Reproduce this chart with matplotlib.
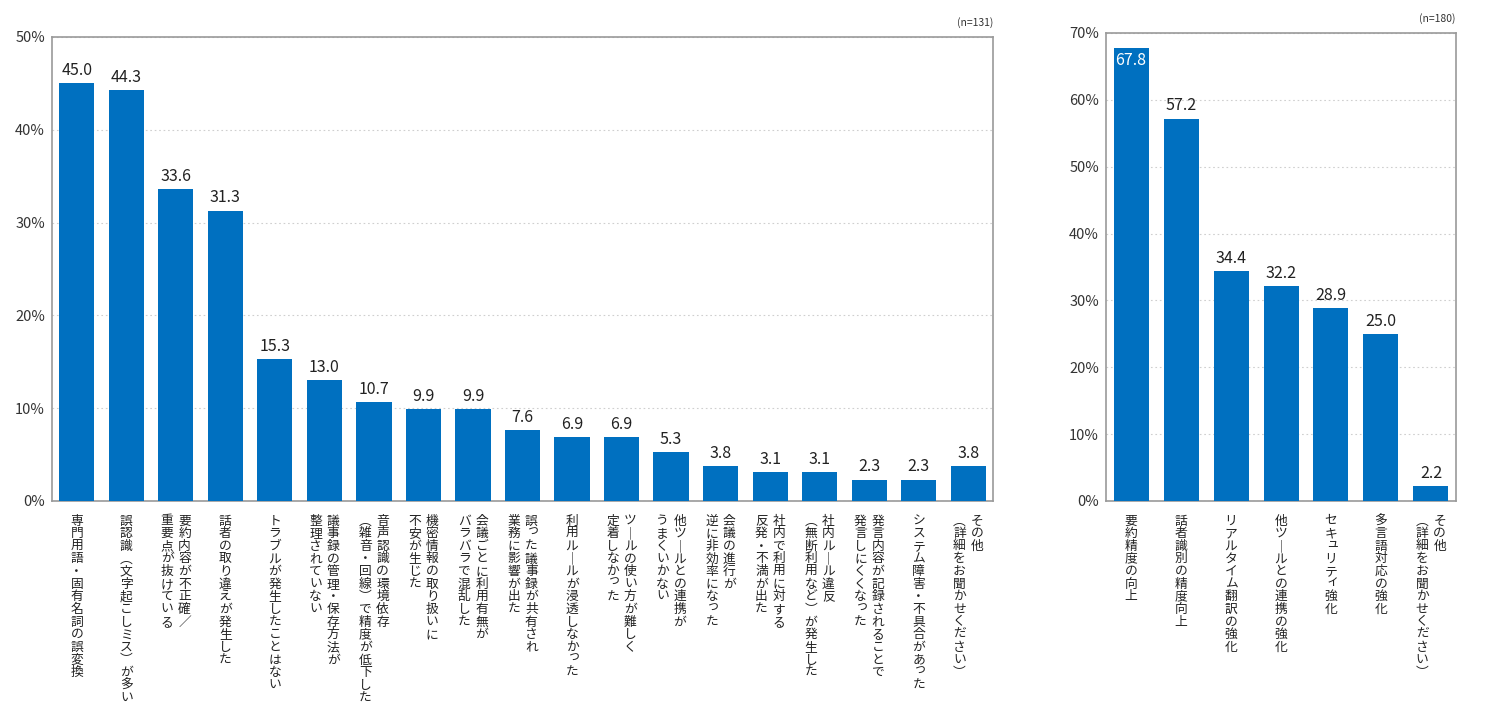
import matplotlib
matplotlib.use("Agg")
import matplotlib.pyplot as plt
from matplotlib.ticker import FuncFormatter, MultipleLocator

plt.rcParams['font.family'] = ['Noto Sans CJK JP', 'DejaVu Sans']

# ---------------- data ----------------
left_labels = [
    "専門用語・固有名詞の誤変換",
    "誤認識（文字起こしミス）が多い",
    "要約内容が不正確／\n重要点が抜けている",
    "話者の取り違えが発生した",
    "トラブルが発生したことはない",
    "議事録の管理・保存方法が\n整理されていない",
    "音声認識の環境依存\n（雑音・回線）で精度が低下した",
    "機密情報の取り扱いに\n不安が生じた",
    "会議ごとに利用有無が\nバラバラで混乱した",
    "誤った議事録が共有され\n業務に影響が出た",
    "利用ルールが浸透しなかった",
    "ツールの使い方が難しく\n定着しなかった",
    "他ツールとの連携が\nうまくいかない",
    "会議の進行が\n逆に非効率になった",
    "社内で利用に対する\n反発・不満が出た",
    "社内ルール違反\n（無断利用など）が発生した",
    "発言内容が記録されることで\n発言しにくくなった",
    "システム障害・不具合があった",
    "その他\n（詳細をお聞かせください）",
]
left_values = [45.0, 44.3, 33.6, 31.3, 15.3, 13.0, 10.7, 9.9, 9.9, 7.6,
               6.9, 6.9, 5.3, 3.8, 3.1, 3.1, 2.3, 2.3, 3.8]
left_n = "(n=131)"

right_labels = [
    "要約精度の向上",
    "話者識別の精度向上",
    "リアルタイム翻訳の強化",
    "他ツールとの連携の強化",
    "セキュリティ強化",
    "多言語対応の強化",
    "その他\n（詳細をお聞かせください）",
]
right_values = [67.8, 57.2, 34.4, 32.2, 28.9, 25.0, 2.2]
right_n = "(n=180)"

BAR = "#0070C0"
SPINE = "#999999"
TXT = "#222222"

VERT_MAP = {"ー": "｜", "（": "︵", "）": "︶", "(": "︵", ")": "︶"}
SMALL = set("っッィュゃゅょャュョァゥェォぁぃぅぇぉ")

CHAR_STEP = 9.1   # points between characters
COL_STEP = 12.6   # points between columns
TOP_OFF = 20.0    # points below axis to first char center


def vertical_label(ax, x, text, fs=9.2):
    cols = text.split("\n")
    ncol = len(cols)
    for ci, col in enumerate(cols):
        # first column is right-most
        dx = ((ncol - 1) / 2.0 - ci) * COL_STEP
        for k, ch in enumerate(col):
            c = VERT_MAP.get(ch, ch)
            ddx, ddy = 0.0, 0.0
            if ch in SMALL:
                ddx, ddy = 1.3, 1.8
            dy = -(TOP_OFF * 0.72 + k * CHAR_STEP)
            ax.annotate(c, xy=(x, 0), xycoords=('data', 'axes fraction'),
                        xytext=(dx + ddx, dy + ddy), textcoords='offset points',
                        ha='center', va='center', fontsize=fs, color=TXT,
                        annotation_clip=False)


def style_axes(ax, ymax):
    ax.set_ylim(0, ymax)
    ax.yaxis.set_major_locator(MultipleLocator(10))
    ax.yaxis.set_major_formatter(FuncFormatter(lambda v, p: f"{int(round(v))}%"))
    ax.set_xticks([])
    ax.tick_params(axis='y', length=0, pad=5, labelsize=10.5, colors="#333333")
    for s in ax.spines.values():
        s.set_color(SPINE)
        s.set_linewidth(1.2)
    ax.grid(axis='y', linestyle=(0, (1.5, 2.5)), color="#cfcfcf", linewidth=0.8)
    ax.set_axisbelow(True)


fig = plt.figure(figsize=(15, 7.23), dpi=100)

# left chart
axL = fig.add_axes([52 / 1500, 1 - 501 / 723, 941 / 1500, (501 - 37) / 723])
xl = list(range(len(left_values)))
axL.bar(xl, left_values, width=0.71, color=BAR, zorder=3)
axL.set_xlim(-0.5, len(left_values) - 0.5)
style_axes(axL, 50)
for x, v in zip(xl, left_values):
    axL.annotate(f"{v:.1f}", xy=(x, v), xytext=(0, 3), textcoords='offset points',
                 ha='center', va='bottom', fontsize=11.5, color=TXT)
for x, lab in zip(xl, left_labels):
    vertical_label(axL, x, lab)
axL.text(1.0, 1.02, left_n, transform=axL.transAxes, ha='right', va='bottom',
         fontsize=7.5, color="#333333")

# right chart
axR = fig.add_axes([1106 / 1500, 1 - 501 / 723, 350 / 1500, (501 - 33) / 723])
xr = list(range(len(right_values)))
axR.bar(xr, right_values, width=0.70, color=BAR, zorder=3)
axR.set_xlim(-0.5, len(right_values) - 0.5)
style_axes(axR, 70)
for i, (x, v) in enumerate(zip(xr, right_values)):
    if i == 0:
        axR.annotate(f"{v:.1f}", xy=(x, v), xytext=(0, -3), textcoords='offset points',
                     ha='center', va='top', fontsize=11.5, color="white")
    else:
        axR.annotate(f"{v:.1f}", xy=(x, v), xytext=(0, 3), textcoords='offset points',
                     ha='center', va='bottom', fontsize=11.5, color=TXT)
for x, lab in zip(xr, right_labels):
    vertical_label(axR, x, lab)
axR.text(1.0, 1.02, right_n, transform=axR.transAxes, ha='right', va='bottom',
         fontsize=7.5, color="#333333")

fig.savefig("out.png", dpi=100, facecolor="white")
